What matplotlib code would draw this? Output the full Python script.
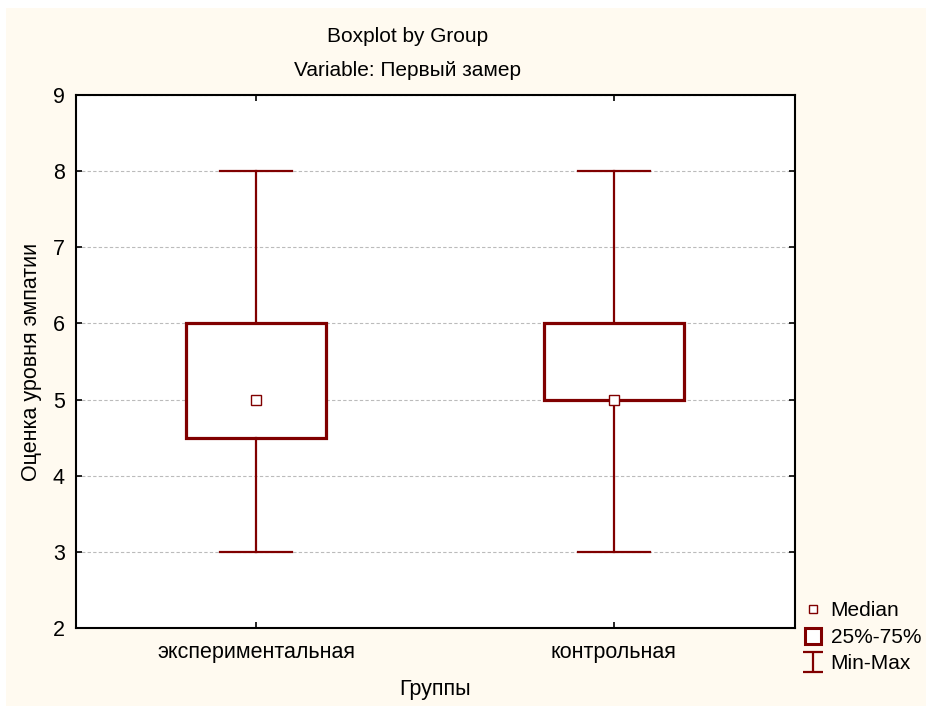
import matplotlib
matplotlib.use("Agg")
import matplotlib.pyplot as plt
from matplotlib.lines import Line2D
from matplotlib.patches import Rectangle
from matplotlib.path import Path

plt.rcParams['font.family'] = ['Liberation Sans', 'DejaVu Sans']

# данные: группы и пятичисловые сводки по первому замеру
groups = ['экспериментальная', 'контрольная']
mins = [3, 3]
q1s = [4.5, 5]
medians = [5, 5]
q3s = [6, 6]
maxs = [8, 8]

dark = '#800000'
fs = 15.5

fig = plt.figure(figsize=(9.26, 7.06), dpi=100, facecolor='white')
# кремовый фон с белой рамкой сверху и слева
fig.patches.append(Rectangle((6 / 926, 0), 1, 1 - 8 / 706, transform=fig.transFigure,
                             facecolor='#FFFAF0', edgecolor='none', zorder=-10))

ax = fig.add_axes([76 / 926, 1 - 628 / 706, 719 / 926, 533 / 706])
ax.set_facecolor('white')

stats = []
for g, lo, a, m, b, hi in zip(groups, mins, q1s, medians, q3s, maxs):
    stats.append(dict(label=g, whislo=lo, q1=a, med=m, q3=b, whishi=hi, fliers=[]))

pos = [1, 2]
ax.bxp(stats, positions=pos, widths=0.39, capwidths=0.2, patch_artist=True,
       boxprops=dict(facecolor='white', edgecolor=dark, linewidth=2.3),
       whiskerprops=dict(color=dark, linewidth=1.6),
       capprops=dict(color=dark, linewidth=1.6),
       medianprops=dict(linewidth=0), zorder=3)
ax.plot(pos, medians, ls='none', marker='s', ms=6.5, mfc='white', mec=dark, mew=1, zorder=5)

ax.set_xlim(0.497, 2.506)
ax.set_ylim(2, 9)
ax.set_yticks(range(2, 10))
ax.set_xticks(pos)
ax.set_xticklabels(groups)
ax.yaxis.grid(True, color='#BBBBBB', linestyle=(0, (3, 2)), linewidth=0.8)
ax.set_axisbelow(True)
ax.tick_params(direction='in', length=4, width=1.2, top=True, right=True,
               labelsize=fs, color='black')
ax.tick_params(axis='x', pad=10)
ax.tick_params(axis='y', pad=8)
for s in ax.spines.values():
    s.set_linewidth(1.5)

ax.set_ylabel('Оценка уровня эмпатии', fontsize=fs, labelpad=8)
fig.text(435 / 926, 1 - 690 / 706, 'Группы', ha='center', va='center', fontsize=fs)
fig.text(408 / 926, 1 - 37 / 706, 'Boxplot by Group', ha='center', va='center', fontsize=15)
fig.text(408 / 926, 1 - 70 / 706, 'Variable: Первый замер', ha='center', va='center', fontsize=15)

# легенда справа внизу
ibeam = Path([(-1, 1), (1, 1), (0, 1), (0, -1), (-1, -1), (1, -1)],
             [Path.MOVETO, Path.LINETO, Path.MOVETO, Path.LINETO, Path.MOVETO, Path.LINETO])
handles = [
    Line2D([], [], ls='none', marker='s', ms=6, mfc='white', mec=dark, mew=1),
    Line2D([], [], ls='none', marker='s', ms=12, mfc='white', mec=dark, mew=2.2),
    Line2D([], [], ls='none', marker=ibeam, ms=14, mec=dark, mew=1.6),
]
fig.legend(handles, ['Median', '25%-75%', 'Min-Max'], loc='upper left',
           bbox_to_anchor=(791 / 926, 1 - 591 / 706), frameon=False, fontsize=15,
           handlelength=1.1, handletextpad=0.3, labelspacing=0.36, borderpad=0)

fig.savefig('out.png', dpi=100, facecolor=fig.get_facecolor())
